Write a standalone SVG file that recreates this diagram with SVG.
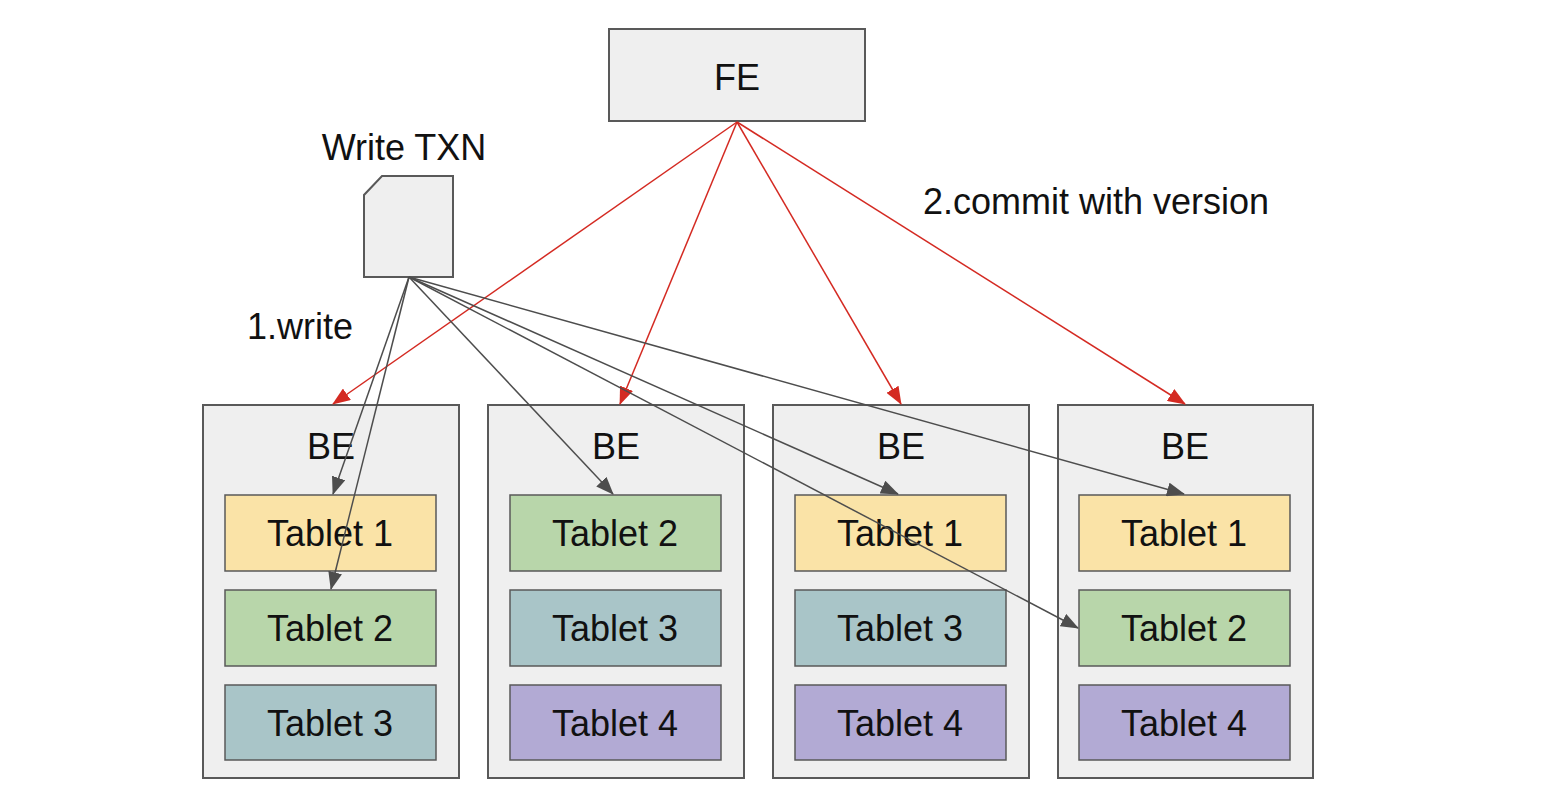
<svg xmlns="http://www.w3.org/2000/svg" width="1546" height="793" viewBox="0 0 1546 793">
<style>
text{font-family:"Liberation Sans",Arial,sans-serif;fill:#111;text-anchor:middle}
.box{fill:#efefef;stroke:#595959;stroke-width:2}
.t{stroke:#595959;stroke-width:1.5}
.t1{fill:#fae3a7}.t2{fill:#b8d6aa}.t3{fill:#a9c5c8}.t4{fill:#b2aad4}
.lbl{font-size:36px}
.red{stroke:#d42a22;stroke-width:1.5;fill:none;marker-end:url(#ar)}
.gry{stroke:#4d4d4d;stroke-width:1.5;fill:none;marker-end:url(#ag)}
</style>
<defs>
<marker id="ar" markerWidth="18" markerHeight="14" refX="17" refY="7" orient="auto" markerUnits="userSpaceOnUse"><path d="M0,0 L18,7 L0,14 Z" fill="#d42a22"/></marker>
<marker id="ag" markerWidth="18" markerHeight="14" refX="17" refY="7" orient="auto" markerUnits="userSpaceOnUse"><path d="M0,0 L18,7 L0,14 Z" fill="#4d4d4d"/></marker>
</defs>
<rect width="1546" height="793" fill="#ffffff"/>
<g id="fe"><rect class="box" x="609" y="29" width="256" height="92"/><text class="lbl" x="737" y="90">FE</text></g>
<g id="txn"><path class="box" d="M382,176 L453,176 L453,277 L364,277 L364,195 Z"/><text x="404" y="160" font-size="36">Write TXN</text></g>
<text x="300" y="339" font-size="36">1.write</text>
<text x="1096" y="214" font-size="36">2.commit with version</text>
<g id="be1"><rect class="box" x="203" y="405" width="256" height="373"/><text class="lbl" x="331" y="459">BE</text>
<rect class="t t1" x="225" y="495" width="211" height="76"/><text class="lbl" x="330" y="546">Tablet 1</text>
<rect class="t t2" x="225" y="590" width="211" height="76"/><text class="lbl" x="330" y="641">Tablet 2</text>
<rect class="t t3" x="225" y="685" width="211" height="75"/><text class="lbl" x="330" y="736">Tablet 3</text></g>
<g id="be2"><rect class="box" x="488" y="405" width="256" height="373"/><text class="lbl" x="616" y="459">BE</text>
<rect class="t t2" x="510" y="495" width="211" height="76"/><text class="lbl" x="615" y="546">Tablet 2</text>
<rect class="t t3" x="510" y="590" width="211" height="76"/><text class="lbl" x="615" y="641">Tablet 3</text>
<rect class="t t4" x="510" y="685" width="211" height="75"/><text class="lbl" x="615" y="736">Tablet 4</text></g>
<g id="be3"><rect class="box" x="773" y="405" width="256" height="373"/><text class="lbl" x="901" y="459">BE</text>
<rect class="t t1" x="795" y="495" width="211" height="76"/><text class="lbl" x="900" y="546">Tablet 1</text>
<rect class="t t3" x="795" y="590" width="211" height="76"/><text class="lbl" x="900" y="641">Tablet 3</text>
<rect class="t t4" x="795" y="685" width="211" height="75"/><text class="lbl" x="900" y="736">Tablet 4</text></g>
<g id="be4"><rect class="box" x="1058" y="405" width="255" height="373"/><text class="lbl" x="1185" y="459">BE</text>
<rect class="t t1" x="1079" y="495" width="211" height="76"/><text class="lbl" x="1184" y="546">Tablet 1</text>
<rect class="t t2" x="1079" y="590" width="211" height="76"/><text class="lbl" x="1184" y="641">Tablet 2</text>
<rect class="t t4" x="1079" y="685" width="211" height="75"/><text class="lbl" x="1184" y="736">Tablet 4</text></g>
<g id="connectors">
<line class="red" x1="737" y1="122" x2="333" y2="404"/>
<line class="red" x1="737" y1="122" x2="620" y2="404"/>
<line class="red" x1="737" y1="122" x2="901" y2="404"/>
<line class="red" x1="737" y1="122" x2="1185" y2="404"/>
<line class="gry" x1="409" y1="277" x2="333" y2="494"/>
<line class="gry" x1="409" y1="277" x2="331" y2="589"/>
<line class="gry" x1="409" y1="277" x2="613" y2="494"/>
<line class="gry" x1="409" y1="277" x2="898" y2="494"/>
<line class="gry" x1="409" y1="277" x2="1078" y2="628"/>
<line class="gry" x1="409" y1="277" x2="1184" y2="494"/>
</g>
</svg>
